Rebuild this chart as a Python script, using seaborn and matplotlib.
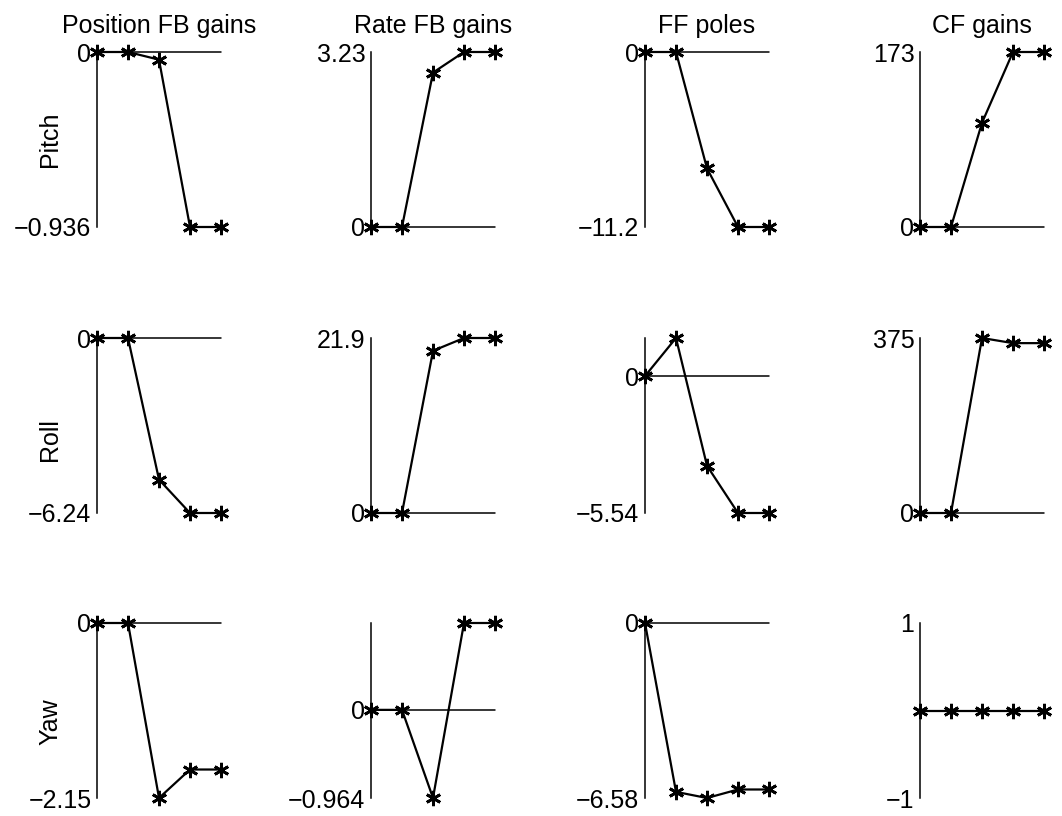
import numpy as np
import pandas as pd
import matplotlib
matplotlib.use('Agg')
import matplotlib.pyplot as plt
import seaborn as sns

sns.set_style('white')
plt.rcParams['font.family'] = ['Liberation Sans', 'DejaVu Sans']
plt.rcParams['text.color'] = 'black'
plt.rcParams['ytick.color'] = 'black'
plt.rcParams['axes.labelcolor'] = 'black'

steps = [1, 2, 3, 4, 5]
col_titles = ['Position FB gains', 'Rate FB gains', 'FF poles', 'CF gains']
row_names = ['Pitch', 'Roll', 'Yaw']

# values, one list per panel
pos_fb_pitch = [0, 0, -0.041, -0.936, -0.936]
pos_fb_roll = [0, 0, -5.05, -6.24, -6.24]
pos_fb_yaw = [0, 0, -2.15, -1.80, -1.80]

rate_fb_pitch = [0, 0, 2.85, 3.23, 3.23]
rate_fb_roll = [0, 0, 20.3, 21.9, 21.9]
rate_fb_yaw = [0, 0, -0.964, 0.95, 0.95]

ff_poles_pitch = [0, 0, -7.45, -11.2, -11.2]
ff_poles_roll = [0, 1.54, -3.63, -5.54, -5.54]
ff_poles_yaw = [0, -6.35, -6.58, -6.26, -6.26]

cf_gains_pitch = [0, 0, 103, 173, 173]
cf_gains_roll = [0, 0, 375, 364, 364]
cf_gains_yaw = [0, 0, 0, 0, 0]

# y tick values shown on each panel
ticks_pitch = [[-0.936, 0], [0, 3.23], [-11.2, 0], [0, 173]]
ticks_roll = [[-6.24, 0], [0, 21.9], [-5.54, 0], [0, 375]]
ticks_yaw = [[-2.15, 0], [-0.964, 0], [-6.58, 0], [-1, 1]]

panels = [
    [pos_fb_pitch, rate_fb_pitch, ff_poles_pitch, cf_gains_pitch],
    [pos_fb_roll, rate_fb_roll, ff_poles_roll, cf_gains_roll],
    [pos_fb_yaw, rate_fb_yaw, ff_poles_yaw, cf_gains_yaw],
]
panel_ticks = [ticks_pitch, ticks_roll, ticks_yaw]

W, H = 1062, 816
fig = plt.figure(figsize=(W / 100, H / 100), dpi=100)

lefts = [97, 371, 645, 920]
tops = [52, 338, 623]
aw, ah = 124, 175
label_y = [139, 440, 722]


def fmt(v):
    return '{:g}'.format(v).replace('-', '\u2212')


for r in range(3):
    for c in range(4):
        ax = fig.add_axes([lefts[c] / W, 1 - (tops[r] + ah) / H, aw / W, ah / H])
        vals = panels[r][c]
        tks = panel_ticks[r][c]
        df = pd.DataFrame({'step': steps, 'value': vals})
        ax.axhline(0, color='k', lw=1.1, clip_on=False, zorder=1)
        sns.lineplot(data=df, x='step', y='value', ax=ax, color='k',
                     marker=(6, 2, 0), markersize=11, markeredgewidth=2.0,
                     markeredgecolor='k', linewidth=1.6, clip_on=False,
                     zorder=3)
        lo = min(min(vals), min(tks))
        hi = max(max(vals), max(tks))
        ax.set_xlim(1, 5)
        ax.set_ylim(lo, hi)
        ax.set_xticks([])
        ax.set_yticks(tks)
        ax.set_yticklabels([fmt(t) for t in tks])
        ax.tick_params(axis='y', length=0, pad=4, labelsize=18,
                       labelcolor='black')
        ax.set_xlabel('')
        ax.set_ylabel('')
        for s in ['top', 'right', 'bottom']:
            ax.spines[s].set_visible(False)
        ax.spines['left'].set_color('k')
        ax.spines['left'].set_linewidth(1.1)
        ax.patch.set_alpha(0)
        if r == 0:
            ax.set_title(col_titles[c], fontsize=18, pad=14, color='black')
    fig.text(50 / W, 1 - label_y[r] / H, row_names[r], rotation=90,
             ha='center', va='center', fontsize=18, color='black')

fig.savefig('out.png', dpi=100)
